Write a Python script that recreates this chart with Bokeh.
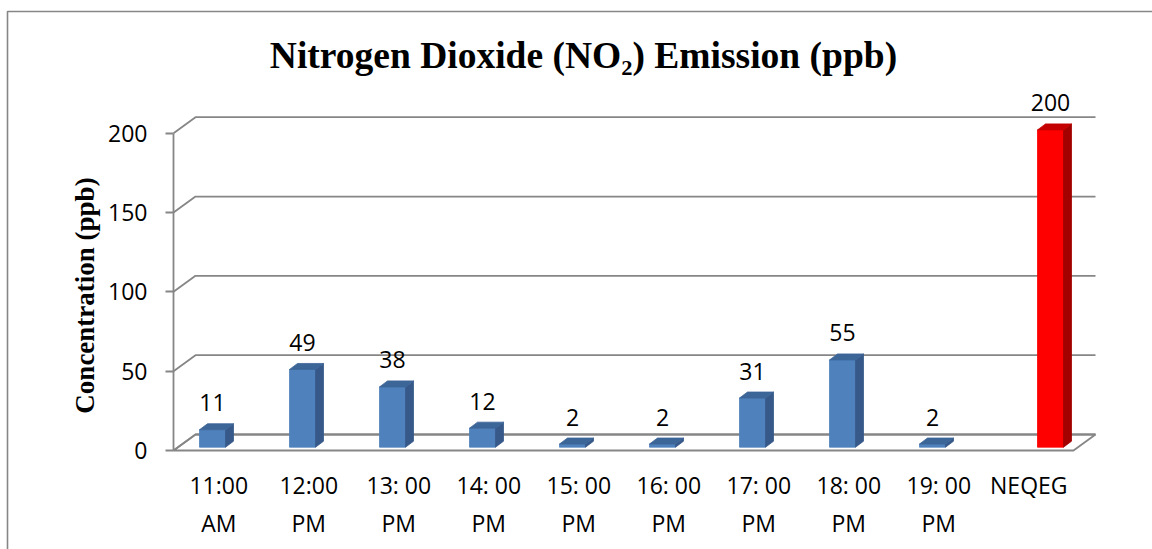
import math

from bokeh.plotting import figure
from bokeh.models import Range1d, FixedTicker, Label, BoxAnnotation, ColumnDataSource
from bokeh.core.properties import value
from bokeh.embed import file_html
from bokeh.resources import INLINE

# ---------------- data ----------------
time_labels = ["11:00\nAM", "12:00\nPM", "13: 00\nPM", "14: 00\nPM", "15: 00\nPM",
               "16: 00\nPM", "17: 00\nPM", "18: 00\nPM", "19: 00\nPM"]
no2_ppb = [11, 49, 38, 12, 2, 2, 31, 55, 2]
standard_labels = ["NEQEG"]
standard_ppb = [200]
y_ticks = [0, 50, 100, 150, 200]

title_text = "Nitrogen Dioxide (NO\u2082) Emission (ppb)"
y_title = "Concentration (ppb)"

# ---------------- layout (canvas pixels -> data units) ----------------
# The plotting frame fills the whole canvas; both axes are pinned inside it.
W, H = 1152, 549
AXIS_X_PX = 173           # column of the value axis
LABEL_ROW_PX = 452        # row the category labels hang from
ZERO_PX = 450             # canvas row of value 0
PX_PER_PPB = (450 - 132.7) / 200
PX_PER_CAT = 90.0
FIRST_CAT_PX = 218.3


def x_at(px):
    return (px - FIRST_CAT_PX) / PX_PER_CAT


def y_at(py):
    return (ZERO_PX - py) / PX_PER_PPB


def dx(px):
    return px / PX_PER_CAT


def dy(px):
    return px / PX_PER_PPB


n_cats = len(time_labels) + len(standard_labels)
wall_dx, wall_dy = dx(22), dy(16)       # depth of the back wall
bar_half = dx(13)                       # half width of a column face
bar_lift = dy(3.3)                      # columns stand slightly inside the floor
side_dx, side_dy = dx(8), dy(6)         # column depth
label_gap = dy(27)

GRID = "#868686"

p = figure(width=W, height=H, output_backend="svg", toolbar_location=None,
           x_range=Range1d(x_at(0), x_at(W)), y_range=Range1d(y_at(H), y_at(0)),
           min_border=0, outline_line_color=None,
           background_fill_color="white", border_fill_color="white")
p.xgrid.visible = False
p.ygrid.visible = False

# ---------------- floor and back wall ----------------
floor_left = x_at(AXIS_X_PX)
floor_right = floor_left + n_cats
p.patch([floor_left, floor_right, floor_right + wall_dx, floor_left + wall_dx],
        [0, 0, wall_dy, wall_dy], fill_color="white", line_color=GRID, line_width=1.8)
p.multi_line(xs=[[floor_left, floor_left + wall_dx, floor_right + wall_dx] for _ in y_ticks],
             ys=[[v, v + wall_dy, v + wall_dy] for v in y_ticks],
             line_color=GRID, line_width=1.8)


# ---------------- 3-D columns ----------------
def columns(centres, values, front, side, top):
    left = [c - bar_half for c in centres]
    right = [c + bar_half for c in centres]
    tops = [bar_lift + v for v in values]
    src = ColumnDataSource(dict(left=left, right=right, bottom=[bar_lift] * len(values), top=tops))
    p.quad(left="left", right="right", bottom="bottom", top="top", source=src,
           fill_color=front, line_color=front, line_width=0.8)
    p.patches(xs=[[r, r + side_dx, r + side_dx, r] for r in right],
              ys=[[bar_lift, bar_lift + side_dy, t + side_dy, t] for t in tops],
              fill_color=side, line_color=side, line_width=0.8)
    p.patches(xs=[[l, r, r + side_dx, l + side_dx] for l, r in zip(left, right)],
              ys=[[t, t, t + side_dy, t + side_dy] for t in tops],
              fill_color=top, line_color=top, line_width=0.8)
    p.text(x=centres, y=[t + label_gap for t in tops], text=[str(v) for v in values],
           text_align="center", text_baseline="middle", text_color="black",
           text_font=value("Open Sans"), text_font_size="23px")


blue_pos = [i + dx(-6.3) for i in range(len(no2_ppb))]
red_pos = [len(no2_ppb) + i + dx(21.7) for i in range(len(standard_ppb))]
columns(blue_pos, no2_ppb, "#4F81BD", "#36598A", "#3C6598")
columns(red_pos, standard_ppb, "#FF0000", "#A30000", "#C40000")

# ---------------- axes ----------------
ax = p.xaxis[0]
ax.fixed_location = y_at(LABEL_ROW_PX)
ax.ticker = FixedTicker(ticks=list(range(n_cats)))
ax.major_label_overrides = {i: lab for i, lab in enumerate(time_labels + standard_labels)}
ax.axis_line_color = None
ax.major_tick_line_color = None
ax.minor_tick_line_color = None
ax.major_label_standoff = 10
ax.major_label_text_font = "Open Sans"
ax.major_label_text_font_size = "23px"
ax.major_label_text_color = "black"

ay = p.yaxis[0]
ay.fixed_location = x_at(AXIS_X_PX)
ay.ticker = FixedTicker(ticks=y_ticks)
ay.bounds = (0, 200)
ay.axis_line_color = GRID
ay.axis_line_width = 1.8
ay.major_tick_line_color = GRID
ay.major_tick_line_width = 1.8
ay.major_tick_in = 0
ay.major_tick_out = 8
ay.minor_tick_line_color = None
ay.major_label_standoff = 18
ay.major_label_text_font = "Open Sans"
ay.major_label_text_font_size = "23px"
ay.major_label_text_color = "black"

# ---------------- titles and chart border ----------------
p.add_layout(Label(x=x_at(84), y=y_at(295), text=y_title, angle=math.pi / 2,
                   text_align="center", text_baseline="middle",
                   text_font="Liberation Serif", text_font_style="bold",
                   text_font_size="27px", text_color="black"))
p.add_layout(Label(x=x_at(583), y=y_at(54.5), text=title_text,
                   text_align="center", text_baseline="middle",
                   text_font="Liberation Serif", text_font_style="bold",
                   text_font_size="37.5px", text_color="black"))
p.add_layout(BoxAnnotation(left=7, right=W + 40, top=11, bottom=H + 40,
                           left_units="canvas", right_units="canvas",
                           top_units="canvas", bottom_units="canvas",
                           fill_alpha=0, line_color="#868686", line_alpha=1.0,
                           line_width=1.6))

open("out.html", "w").write(file_html(p, INLINE))
